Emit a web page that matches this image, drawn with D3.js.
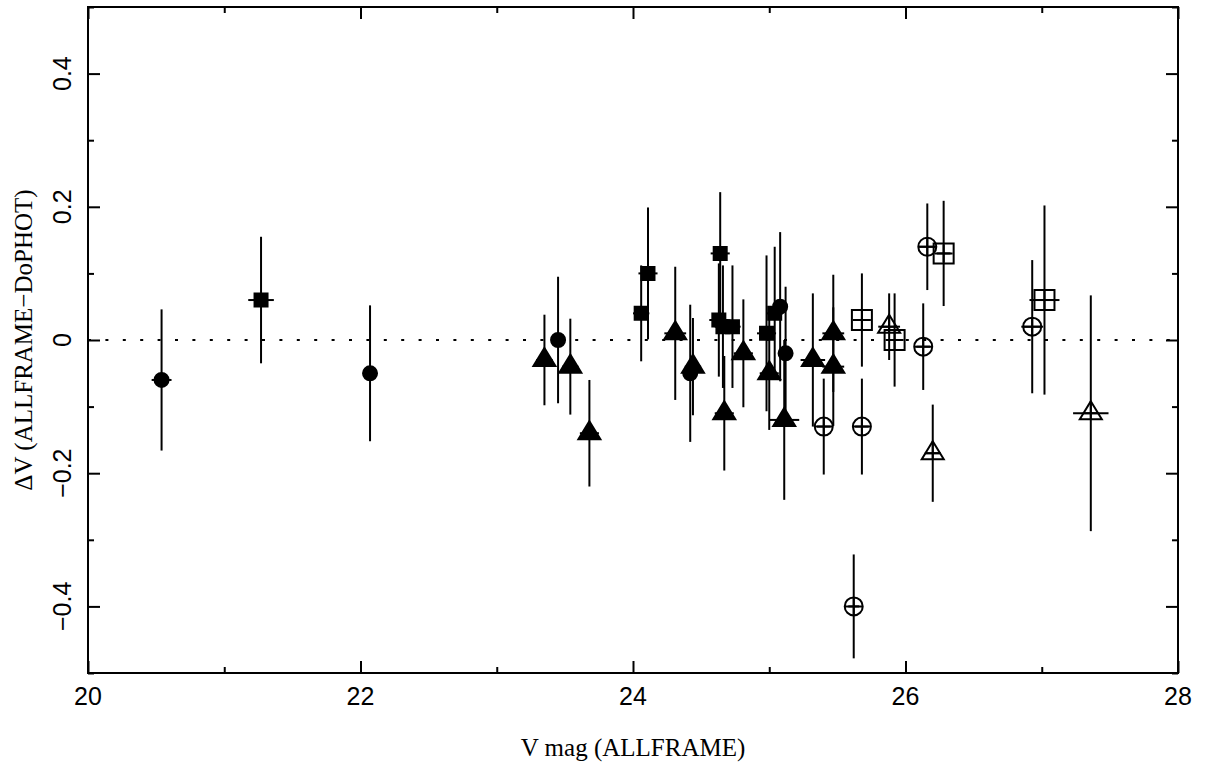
<!DOCTYPE html>
<html>
<head>
<meta charset="utf-8">
<script src="https://cdn.jsdelivr.net/npm/d3@7"></script>
<style>
  body { margin: 0; background: #fff; }
  svg { display: block; }
</style>
</head>
<body>
<div id="chart"></div>
<script>
// V mag (ALLFRAME), dV (ALLFRAME - DoPHOT), errors and symbol kind for each star
const vmag = [20.54, 21.27, 22.07, 23.35, 23.45, 23.54, 23.68, 24.06, 24.11, 24.31,
              24.42, 24.44, 24.64, 24.63, 24.66, 24.73, 24.67, 24.81, 24.98, 25.04,
              25.08, 25.12, 25.00, 25.11, 25.32, 25.47, 25.47,
              25.40, 25.68, 25.62, 26.13, 26.16, 26.93,
              25.68, 25.92, 26.28, 27.02,
              25.88, 26.20, 27.36];
const dv = [-0.06, 0.06, -0.05, -0.03, 0.00, -0.04, -0.14, 0.04, 0.10, 0.01,
            -0.05, -0.04, 0.13, 0.03, 0.02, 0.02, -0.11, -0.02, 0.01, 0.04,
            0.05, -0.02, -0.05, -0.12, -0.03, 0.01, -0.04,
            -0.13, -0.13, -0.40, -0.01, 0.14, 0.02,
            0.03, 0.00, 0.13, 0.06,
            0.02, -0.17, -0.11];
const dvErr = [0.106, 0.095, 0.102, 0.068, 0.095, 0.072, 0.080, 0.072, 0.099, 0.100,
               0.103, 0.073, 0.092, 0.085, 0.092, 0.092, 0.086, 0.081, 0.117, 0.100,
               0.112, 0.100, 0.085, 0.120, 0.100, 0.088, 0.089,
               0.072, 0.072, 0.078, 0.065, 0.065, 0.100,
               0.070, 0.070, 0.079, 0.142,
               0.050, 0.073, 0.177];
const vErr = [0.073, 0.094, 0.04, 0.06, 0.04, 0.06, 0.07, 0.06, 0.07, 0.08,
              0.04, 0.06, 0.07, 0.07, 0.06, 0.06, 0.07, 0.07, 0.07, 0.06,
              0.05, 0.05, 0.07, 0.11, 0.09, 0.08, 0.08,
              0.05, 0.05, 0.04, 0.05, 0.06, 0.08,
              0.05, 0.05, 0.05, 0.11,
              0.08, 0.05, 0.13];
const kind = ["fc", "fs", "fc", "ft", "fc", "ft", "ft", "fs", "fs", "ft",
              "fc", "ft", "fs", "fs", "fs", "fs", "ft", "ft", "fs", "fs",
              "fc", "fc", "ft", "ft", "ft", "ft", "ft",
              "oc", "oc", "oc", "oc", "oc", "oc",
              "os", "os", "os", "os",
              "ot", "ot", "ot"];

const xMajor = [20, 22, 24, 26, 28];
const xMinor = [21, 23, 25, 27];
const yMajor = [-0.4, -0.2, 0, 0.2, 0.4];
const yMinor = [-0.5, -0.3, -0.1, 0.1, 0.3, 0.5];

const width = 1206;
const height = 772;
const margin = { left: 88, right: 28, top: 7, bottom: 99 };
const iw = width - margin.left - margin.right;
const ih = height - margin.top - margin.bottom;

const x = d3.scaleLinear().domain([20, 28]).range([0, iw]);
const y = d3.scaleLinear().domain([-0.5, 0.5]).range([ih, 0]);

const svg = d3.select("#chart")
    .append("svg")
    .attr("width", width)
    .attr("height", height);

const g = svg.append("g")
    .attr("transform", `translate(${margin.left},${margin.top})`);

// ticks on all four sides, pointing inwards
function tickAxis(axisFn, scale, values, size, tr) {
    const a = g.append("g")
        .attr("transform", tr)
        .call(axisFn(scale).tickValues(values).tickSize(size).tickFormat(""));
    a.select(".domain").remove();
    a.selectAll("line").attr("stroke", "#000").attr("stroke-width", 2);
}
tickAxis(d3.axisBottom, x, xMajor, -12, `translate(0,${ih})`);
tickAxis(d3.axisBottom, x, xMinor, -6, `translate(0,${ih})`);
tickAxis(d3.axisTop, x, xMajor, -12, "translate(0,0)");
tickAxis(d3.axisTop, x, xMinor, -6, "translate(0,0)");
tickAxis(d3.axisLeft, y, yMajor, -12, "translate(0,0)");
tickAxis(d3.axisLeft, y, yMinor, -6, "translate(0,0)");
tickAxis(d3.axisRight, y, yMajor, -12, `translate(${iw},0)`);
tickAxis(d3.axisRight, y, yMinor, -6, `translate(${iw},0)`);

g.append("rect")
    .attr("width", iw)
    .attr("height", ih)
    .attr("fill", "none")
    .attr("stroke", "#000")
    .attr("stroke-width", 2);

const fmt = v => (v === 0 ? "0" : d3.format(".1f")(v).replace("-", "\u2212"));

g.selectAll(".xlab")
    .data(xMajor)
    .join("text")
    .attr("x", d => x(d))
    .attr("y", ih + 32)
    .attr("text-anchor", "middle")
    .attr("font-family", "Liberation Sans, Arial, sans-serif")
    .attr("font-size", 25)
    .text(d => d);

g.selectAll(".ylab")
    .data(yMajor)
    .join("text")
    .attr("transform", d => `translate(${-17},${y(d)}) rotate(-90)`)
    .attr("text-anchor", "middle")
    .attr("font-family", "Liberation Sans, Arial, sans-serif")
    .attr("font-size", 25)
    .text(fmt);

svg.append("text")
    .attr("x", margin.left + iw / 2)
    .attr("y", 756)
    .attr("text-anchor", "middle")
    .attr("font-family", "Liberation Serif, serif")
    .attr("font-size", 25)
    .text("V mag (ALLFRAME)");

svg.append("text")
    .attr("transform", `translate(32,${margin.top + y(0)}) rotate(-90)`)
    .attr("text-anchor", "middle")
    .attr("font-family", "Liberation Serif, serif")
    .attr("font-size", 25)
    .text("\u0394V (ALLFRAME\u2212DoPHOT)");

// zero line
g.append("line")
    .attr("x1", 0).attr("x2", iw)
    .attr("y1", y(0)).attr("y2", y(0))
    .attr("stroke", "#000")
    .attr("stroke-width", 2)
    .attr("stroke-dasharray", "3,14.4");

const pts = vmag.map((v, i) => ({ v: v, d: dv[i], e: dvErr[i], ve: vErr[i], k: kind[i] }));

// error bars
const bars = g.append("g").attr("stroke", "#000").attr("stroke-width", 2);
bars.selectAll(".ey")
    .data(pts)
    .join("line")
    .attr("x1", d => x(d.v)).attr("x2", d => x(d.v))
    .attr("y1", d => y(d.d + d.e)).attr("y2", d => y(d.d - d.e));
bars.selectAll(".ex")
    .data(pts)
    .join("line")
    .attr("x1", d => x(d.v - d.ve)).attr("x2", d => x(d.v + d.ve))
    .attr("y1", d => y(d.d)).attr("y2", d => y(d.d));

// symbols
const tri = (w, h) => `M0,${-h * 2 / 3}L${w / 2},${h / 3}L${-w / 2},${h / 3}Z`;
const shape = {
    fc: "M7,0A7,7 0 1,1 -7,0A7,7 0 1,1 7,0Z",
    fs: "M-6.5,-6.5H6.5V6.5H-6.5Z",
    ft: tri(22, 18),
    oc: "M9,0A9,9 0 1,1 -9,0A9,9 0 1,1 9,0Z",
    os: "M-10,-10H10V10H-10Z",
    ot: tri(22, 18)
};

const marks = g.append("g").selectAll("g")
    .data(pts)
    .join("g")
    .attr("transform", d => `translate(${x(d.v)},${y(d.d)})`);

marks.append("path")
    .attr("d", d => shape[d.k])
    .attr("fill", d => (d.k[0] === "f" ? "#000" : "none"))
    .attr("stroke", "#000")
    .attr("stroke-width", 2)
    .attr("stroke-linejoin", "miter");

// crosshair inside the open symbols
marks.filter(d => d.k[0] === "o")
    .append("path")
    .attr("d", d => (d.k === "ot" ? "M0,-12V6M-8,0H8" : "M0,-9V9M-9,0H9"))
    .attr("stroke", "#000")
    .attr("stroke-width", 2)
    .attr("fill", "none");
</script>
</body>
</html>
